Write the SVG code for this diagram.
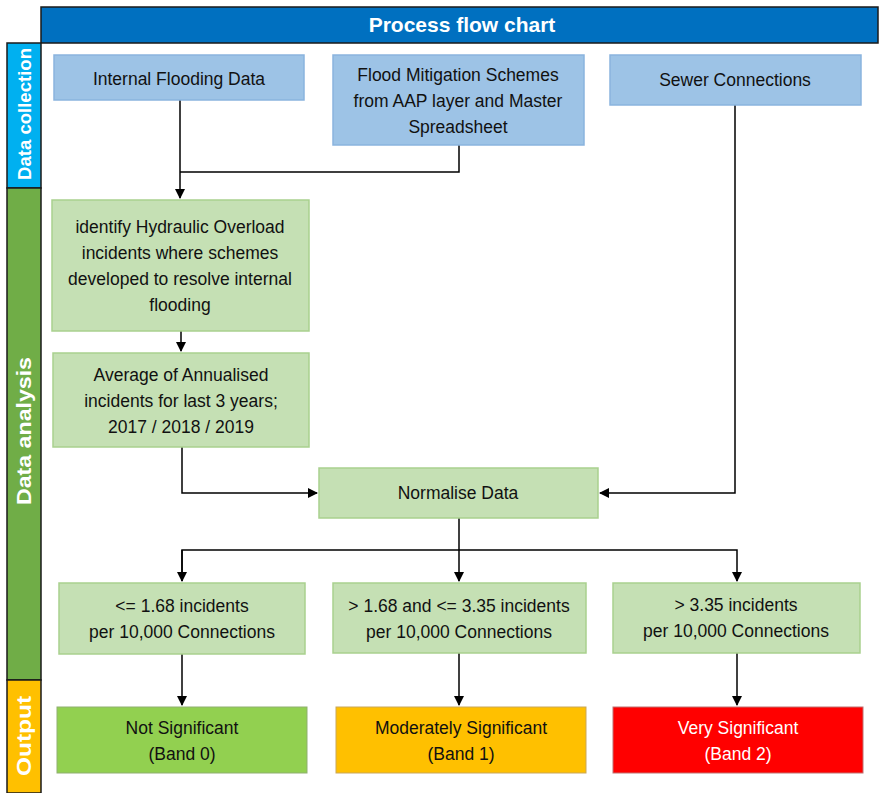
<svg xmlns="http://www.w3.org/2000/svg" width="879" height="793" viewBox="0 0 879 793">
<defs>
<marker id="arr" markerWidth="10" markerHeight="10" refX="9" refY="5" orient="auto" markerUnits="userSpaceOnUse">
<path d="M0,0 L10,5 L0,10 Z" fill="#000"/>
</marker>
<style>
text{font-family:"Liberation Sans",Arial,sans-serif;font-size:17.5px;fill:#111;text-anchor:middle}
.blue{fill:#9DC3E6;stroke:#8AB4DE;stroke-width:1.5}
.green{fill:#C5E0B4;stroke:#A9D18E;stroke-width:1.5}
.lane{font-weight:bold;fill:#fff;font-size:19px}
.con{fill:none;stroke:#000;stroke-width:1.5}
</style>
</defs>
<rect width="879" height="793" fill="#fff"/>
<g id="title">
<rect x="41" y="7" width="837" height="36" fill="#0070C0" stroke="#1a1a1a" stroke-width="1.5"/>
<text x="462" y="25" dy="0.35em" style="font-size:21px;font-weight:bold;fill:#fff">Process flow chart</text>
</g>
<g id="lanes">
<rect x="7" y="43" width="34" height="145" fill="#00B0F0" stroke="#1a1a1a" stroke-width="1.5"/>
<rect x="7" y="188" width="34" height="492" fill="#70AD47" stroke="#1a1a1a" stroke-width="1.5"/>
<rect x="7" y="680" width="34" height="113" fill="#FFC000" stroke="#1a1a1a" stroke-width="1.5"/>
<text class="lane" transform="translate(24,114) rotate(-90)" dy="0.35em" textLength="132" lengthAdjust="spacingAndGlyphs">Data collection</text>
<text class="lane" transform="translate(24,431) rotate(-90)" dy="0.35em" style="font-size:21px" textLength="148" lengthAdjust="spacingAndGlyphs">Data analysis</text>
<text class="lane" transform="translate(24,736) rotate(-90)" dy="0.35em" style="font-size:21px" textLength="80" lengthAdjust="spacingAndGlyphs">Output</text>
</g>
<g id="connectors">
<path class="con" d="M180,100 V198" marker-end="url(#arr)"/>
<path class="con" d="M459,145 V172 H180"/>
<path class="con" d="M735,105 V493 H600" marker-end="url(#arr)"/>
<path class="con" d="M181,331 V351" marker-end="url(#arr)"/>
<path class="con" d="M182,447 V493 H317" marker-end="url(#arr)"/>
<path class="con" d="M459,518 V581" marker-end="url(#arr)"/>
<path class="con" d="M182,581 V550 H737 V581" marker-end="url(#arr)"/>
<path class="con" d="M182,550 V581" marker-end="url(#arr)"/>
<path class="con" d="M182,654 V705" marker-end="url(#arr)"/>
<path class="con" d="M459,653 V705" marker-end="url(#arr)"/>
<path class="con" d="M737,653 V705" marker-end="url(#arr)"/>
</g>
<g id="internal-flooding">
<rect class="blue" x="54" y="55" width="250" height="45"/>
<text x="179" y="79" dy="0.35em">Internal Flooding Data</text>
</g>
<g id="flood-mitigation">
<rect class="blue" x="333" y="55" width="251" height="90"/>
<text x="458" y="75" dy="0.35em">Flood Mitigation Schemes</text>
<text x="458" y="101" dy="0.35em">from AAP layer and Master</text>
<text x="458" y="127" dy="0.35em">Spreadsheet</text>
</g>
<g id="sewer-connections">
<rect class="blue" x="610" y="55" width="251" height="50"/>
<text x="735" y="80" dy="0.35em">Sewer Connections</text>
</g>
<g id="identify">
<rect class="green" x="52" y="200" width="257" height="131"/>
<text x="180" y="227" dy="0.35em">identify Hydraulic Overload</text>
<text x="180" y="253" dy="0.35em">incidents where schemes</text>
<text x="180" y="279" dy="0.35em">developed to resolve internal</text>
<text x="180" y="305" dy="0.35em">flooding</text>
</g>
<g id="average">
<rect class="green" x="53" y="353" width="256" height="94"/>
<text x="181" y="375" dy="0.35em">Average of Annualised</text>
<text x="181" y="401" dy="0.35em">incidents for last 3 years;</text>
<text x="181" y="427" dy="0.35em">2017 / 2018 / 2019</text>
</g>
<g id="normalise">
<rect class="green" x="319" y="468" width="279" height="50"/>
<text x="458" y="493" dy="0.35em">Normalise Data</text>
</g>
<g id="threshold-low">
<rect class="green" x="59" y="583" width="246" height="71"/>
<text x="182" y="606" dy="0.35em">&lt;= 1.68 incidents</text>
<text x="182" y="632" dy="0.35em">per 10,000 Connections</text>
</g>
<g id="threshold-mid">
<rect class="green" x="333" y="583" width="253" height="70"/>
<text x="459" y="606" dy="0.35em">&gt; 1.68 and &lt;= 3.35 incidents</text>
<text x="459" y="632" dy="0.35em">per 10,000 Connections</text>
</g>
<g id="threshold-high">
<rect class="green" x="613" y="583" width="247" height="70"/>
<text x="736" y="605" dy="0.35em">&gt; 3.35 incidents</text>
<text x="736" y="631" dy="0.35em">per 10,000 Connections</text>
</g>
<g id="band0">
<rect x="57" y="707" width="250" height="66" fill="#92D050" stroke="#8FAF70" stroke-width="1"/>
<text x="182" y="728" dy="0.35em">Not Significant</text>
<text x="182" y="754" dy="0.35em">(Band 0)</text>
</g>
<g id="band1">
<rect x="336" y="707" width="250" height="66" fill="#FFC000" stroke="#C9A75A" stroke-width="1"/>
<text x="461" y="728" dy="0.35em">Moderately Significant</text>
<text x="461" y="754" dy="0.35em">(Band 1)</text>
</g>
<g id="band2">
<rect x="613" y="707" width="250" height="66" fill="#FF0000" stroke="#C07070" stroke-width="1"/>
<text x="738" y="728" dy="0.35em" style="fill:#fff">Very Significant</text>
<text x="738" y="754" dy="0.35em" style="fill:#fff">(Band 2)</text>
</g>
</svg>
